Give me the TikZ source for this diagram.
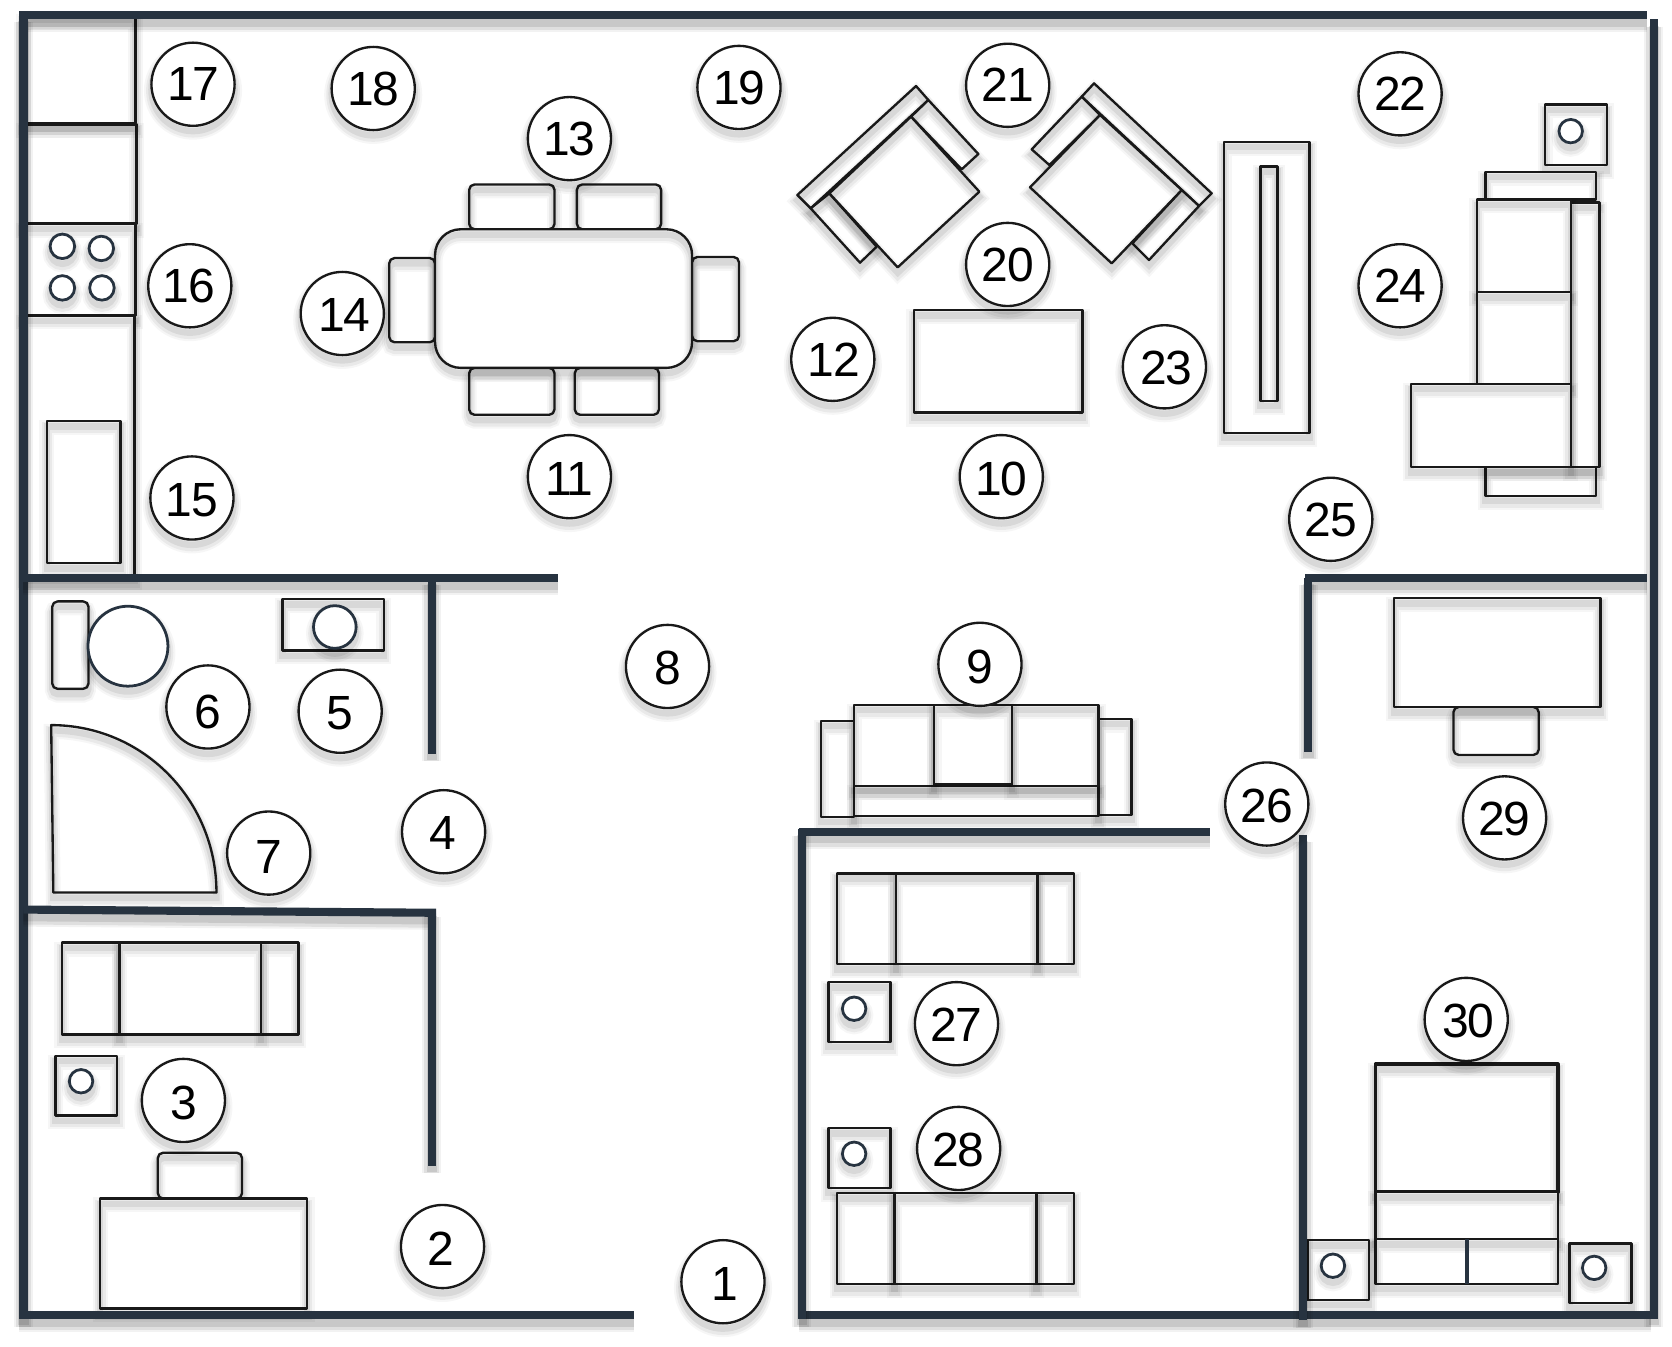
\documentclass[tikz,border=0pt]{standalone}
\usepackage{fontspec}
\setmainfont[LetterSpace=-3]{Liberation Sans}
\definecolor{wallc}{HTML}{273340}
\tikzset{
  x=.5pt,y=-.5pt,
  softthin/.style={
    preaction={draw=black,draw opacity=.035,line width=7pt,transform canvas={yshift=-3pt}},
    preaction={draw=black,draw opacity=.05,line width=5pt,transform canvas={yshift=-3pt}},
    preaction={draw=black,draw opacity=.07,line width=3pt,transform canvas={yshift=-2.5pt}}},
  softwall/.style={
    preaction={draw=black,draw opacity=.05,line width=9pt,transform canvas={yshift=-3.5pt}},
    preaction={draw=black,draw opacity=.08,line width=7pt,transform canvas={yshift=-3.5pt}},
    preaction={draw=black,draw opacity=.10,line width=5pt,transform canvas={yshift=-3pt}}},
  wall/.style={softwall,draw=wallc,line width=3.8pt},
  furn/.style={preaction={fill=white},softthin,draw=black!90,line width=1.1pt,line join=round},
  furnheavy/.style={furn,line width=1.7pt},
  roundfurn/.style={furn,rounded corners=2.5pt},
  knob/.style={preaction={fill=white},softthin,draw=wallc,line width=1.3pt,fill=white},
  tag/.style={circle,softthin,draw=black!90,fill=white,line width=1.1pt,minimum size=39pt,inner sep=0pt,
    font=\fontsize{22.5}{26}\selectfont},
}
\begin{document}
\begin{tikzpicture}
\fill[white,use as bounding box] (0,0) rectangle (1568,1263);

% kitchen units
\path[furnheavy] (22,14) rectangle (127,116);
\path[furn] (22,116) rectangle (128,210);
\path[furnheavy] (22,116) -- (128,116);
\path[furnheavy] (22,210) -- (128,210);
\path[furn] (22,210) rectangle (127,296);
\path[furnheavy] (22,296) rectangle (126,540);
\path[furn] (44,395) rectangle (113,528);
\path[knob] (58.5,231) circle[radius=11.5];
\path[knob] (95,233) circle[radius=11.5];
\path[knob] (58.5,270) circle[radius=11.5];
\path[knob] (95.6,270) circle[radius=11.5];

% dining
\path[roundfurn] (440,173) rectangle (520,215);
\path[roundfurn] (541,173) rectangle (620,215);
\path[roundfurn] (440,345) rectangle (520,389);
\path[roundfurn] (539,345) rectangle (618,389);
\path[roundfurn] (365,242) rectangle (408,321);
\path[roundfurn] (649,241) rectangle (693,320);
\path[furn,rounded corners=12pt] (408,215) rectangle (649,345);

% armchairs
\begin{scope}[shift={(731.5,46.9)},scale=.3126]
  \path[furn] (408,108) -- (52,435) -- (92,475) -- (445,150) -- cycle;
  \path[furn] (445,150) -- (595,312) -- (545,358) -- (393,200) -- cycle;
  \path[furn] (92,475) -- (240,638) -- (290,590) -- (148,430) -- cycle;
  \path[furn] (393,200) -- (598,425) -- (353,652) -- (148,430) -- cycle;
  \path[furn] (942,100) -- (1295,430) -- (1257,468) -- (905,140) -- cycle;
  \path[furn] (905,140) -- (755,298) -- (808,345) -- (960,195) -- cycle;
  \path[furn] (1257,468) -- (1107,630) -- (1057,580) -- (1205,420) -- cycle;
  \path[furn] (960,195) -- (1205,420) -- (995,640) -- (750,412) -- cycle;
\end{scope}

% coffee table and media unit
\path[furn] (857,291) rectangle (1015,387);
\path[furn] (1148,133) rectangle (1228,406);
\path[furn] (1182,156) rectangle (1198,376);

% right sofa
\path[furn] (1449,98) rectangle (1507,155);
\path[knob] (1473,123) circle[radius=11];
\path[furn] (1393,161) rectangle (1497,187);
\path[furn] (1393,438) rectangle (1497,465);
\path[furn] (1473,190) rectangle (1500,438);
\path[furn] (1385,187) rectangle (1473,274);
\path[furn] (1385,274) rectangle (1473,360);
\path[furn] (1323,360) rectangle (1473,438);

% bathroom
\path[roundfurn] (49,564) rectangle (83,646);
\path[knob] (120,606) circle[radius=37.5];
\path[furn] (265,562) rectangle (360,610);
\path[knob] (314,588) circle[radius=20];
\path[furn] (48,680) .. controls (134,680) and (203,750) .. (203,837) -- (50,837) -- cycle;

% lower-left room
\path[furn] (58,884) rectangle (112,970);
\path[furn] (245,884) rectangle (280,970);
\path[furn] (112,884) rectangle (245,970);
\path[furn] (52,990) rectangle (110,1046);
\path[knob] (76,1014) circle[radius=11];
\path[roundfurn] (148,1081) rectangle (227,1124);
\path[furn] (94,1124) rectangle (288,1227);

% long sofa
\path[furn] (770,676) rectangle (801,766);
\path[furn] (1030,674) rectangle (1061,764);
\path[furn] (801,737) rectangle (1030,765);
\path[furn] (801,661) rectangle (876,737);
\path[furn] (949,661) rectangle (1030,737);
\path[furn] (876,661) rectangle (949,735);

% lower-middle room
\path[furn] (785,819) rectangle (840,904);
\path[furn] (973,819) rectangle (1007,904);
\path[furn] (840,819) rectangle (973,904);
\path[furn] (777,921) rectangle (835,977);
\path[knob] (801,946) circle[radius=11];
\path[furn] (777,1058) rectangle (835,1114);
\path[knob] (801,1082) circle[radius=11];
\path[furn] (785,1119) rectangle (839,1204);
\path[furn] (972,1119) rectangle (1007,1204);
\path[furn] (839,1119) rectangle (972,1204);

% right rooms
\path[roundfurn] (1363,663) rectangle (1443,708);
\path[furn] (1307,561) rectangle (1501,663);
\path[furnheavy] (1290,998) rectangle (1461,1118);
\path[furn] (1290,1118) rectangle (1461,1162);
\path[furn] (1290,1162) rectangle (1461,1204);
\draw[wallc,line width=1.9pt] (1376,1162) -- (1376,1204);
\path[furn] (1226,1163) rectangle (1284,1219);
\path[knob] (1250,1187) circle[radius=11];
\path[furn] (1472,1166) rectangle (1530,1222);
\path[knob] (1495,1189) circle[radius=11];

% walls
\path[wall] (18,14) -- (1545,14);
\path[wall] (22,14) -- (22,1237);
\path[wall] (1551,18) -- (1551,1237);
\path[wall] (18,1233) -- (595,1233);
\path[wall] (749,1233) -- (1548,1233);
\path[wall] (22,542) -- (523,542);
\path[wall] (405,542) -- (405,707);
\path[wall] (22,853) -- (409,856);
\path[wall] (405,853) -- (405,1093);
\path[wall] (1224,542) -- (1545,542);
\path[wall] (1227,542) -- (1227,705);
\path[wall] (749,780) -- (1135,780);
\path[wall] (752,777) -- (752,1237);
\path[wall] (1222,783) -- (1222,1238);

% tags: number / centre x / centre y / text offset x (pt) / text offset y (pt)
\foreach \n/\px/\py/\ox/\oy in {1/678/1202/1/-1,2/415/1169/-1/-1,3/172/1032/0/-1,4/416/780/-.5/-.5,
  5/319/667/0/-1,6/195/663/0/-2.2,7/252/800/0/-2,8/626/625/.3/-.5,9/919/623/0/-1.2,10/939/447/0/-1,
  11/534/447/0/-1,12/781/337/.5/-.5,13/534/130/0/0,14/321/294/1/-.8,15/180/467/0/-.8,16/178/268/-.5/-.3,
  17/181/79/0/0,18/350/83/0/0,19/693/82/0/-.3,20/945/248/0/0,21/945/80/0/0,22/1313/88/0/0,23/1092/344/1/-.3,
  24/1313/268/0/0,25/1248/487/0/-.3,26/1188/754/0/-.8,27/897/960/0/-.8,28/899/1077/0/-.8,29/1411/767/0/-.3,
  30/1375/956/1/-.8}
  \node[tag] (tag\n) at (\px,\py) {\raisebox{\dimexpr\oy pt-.345em\relax}[0pt][0pt]{\hspace*{\ox pt}\n\hspace*{-\ox pt}}};
\end{tikzpicture}
\end{document}
